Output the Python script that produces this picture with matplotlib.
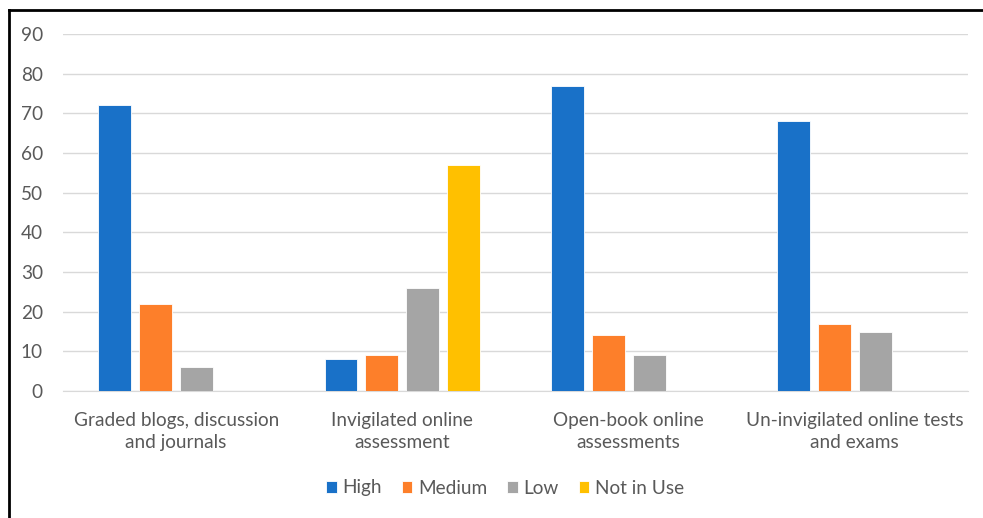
import matplotlib
matplotlib.use("Agg")
import matplotlib.pyplot as plt
import numpy as np
from matplotlib.lines import Line2D

categories = ["Graded blogs, discussion\nand journals",
              "Invigilated online\nassessment",
              "Open-book online\nassessments",
              "Un-invigilated online tests\nand exams"]
series_names = ["High", "Medium", "Low", "Not in Use"]
high = [72, 8, 77, 68]
medium = [22, 9, 14, 17]
low = [6, 26, 9, 15]
not_in_use = [0, 57, 0, 0]
colors = ["#1971C8", "#FD7F2A", "#A5A5A5", "#FFC000"]
TXT = "#595959"
FS = 13.7

plt.rcParams["font.family"] = ["Lato", "DejaVu Sans"]

fig = plt.figure(figsize=(9.83, 5.18), dpi=100)
ax = fig.add_axes([63 / 983, 127 / 518, 905 / 983, 357 / 518])

x = np.arange(len(categories))
w = 0.145
step = 0.181
for i, (vals, c, name) in enumerate(zip((high, medium, low, not_in_use), colors, series_names)):
    ax.bar(x + (i - 1.5) * step, vals, width=w, color=c, label=name,
           edgecolor="white", linewidth=0.6, zorder=3)

ax.set_xlim(-0.5, len(categories) - 0.5)
ax.set_ylim(0, 90)
ax.set_yticks(range(0, 91, 10))
ax.yaxis.grid(True, color="#D9D9D9", linewidth=1.0, zorder=0)
ax.set_axisbelow(True)
for s in ("top", "right", "left"):
    ax.spines[s].set_visible(False)
ax.spines["bottom"].set_color("#D9D9D9")
ax.tick_params(axis="both", length=0, colors=TXT, labelsize=FS)
ax.tick_params(axis="y", pad=14.4)
ax.tick_params(axis="x", pad=15)
ax.set_xticks(x)
ax.set_xticklabels(categories, linespacing=1.4)

ax.legend(loc="center", bbox_to_anchor=(505 / 983, 1 - 488 / 518),
          bbox_transform=fig.transFigure, ncol=4, frameon=False,
          fontsize=FS, labelcolor=TXT, handlelength=0.55, handleheight=0.55,
          handletextpad=0.3, columnspacing=1.05)

# screenshot frame (left and top edges)
fig.add_artist(Line2D([9 / 983, 9 / 983], [0, 1 - 10 / 518], color="black",
                      linewidth=2, transform=fig.transFigure))
fig.add_artist(Line2D([9 / 983, 1], [1 - 10 / 518, 1 - 10 / 518], color="black",
                      linewidth=2, transform=fig.transFigure))

fig.savefig("out.png", dpi=100)
